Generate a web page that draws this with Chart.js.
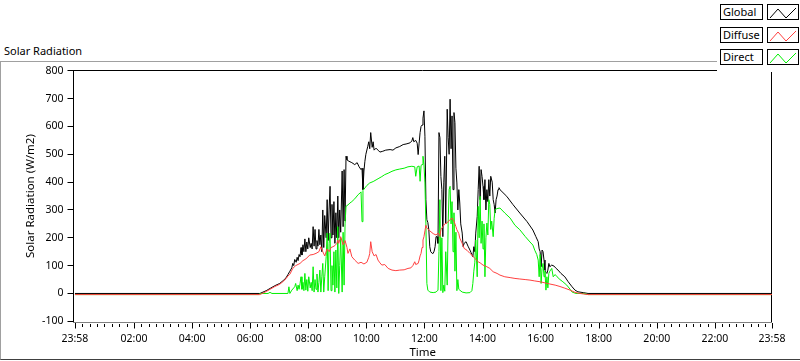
<!DOCTYPE html>
<html>
<head>
<meta charset="utf-8">
<script src="https://cdn.jsdelivr.net/npm/chart.js@4.4.1/dist/chart.umd.min.js"></script>
<style>
  html, body { margin:0; padding:0; background:#fff; }
  #wrap { position:relative; width:800px; height:361px; overflow:hidden; background:#fff; font-family:"Noto Sans", "Liberation Sans", sans-serif; }
  #frame { position:absolute; left:0; top:61px; width:800px; height:299px; box-sizing:border-box;
           border-top:1px solid #a0a0a0; border-left:1px solid #a0a0a0; border-bottom:1px solid #404040; }
  #hdr { position:absolute; left:4px; top:44px; font-size:11px; line-height:13px; color:#000; white-space:nowrap; }
  #c { position:absolute; left:0; top:0; }
  #legend { position:absolute; left:717px; top:0; width:83px; height:72px; background:#fff; }
  .row { position:absolute; left:3px; height:16px; }
  .lab { position:absolute; left:0; top:0; width:43px; height:16px; box-sizing:border-box; border:1px solid #000;
         background:#fff; font-size:11px; line-height:14px; padding-left:2px; color:#000; white-space:nowrap; overflow:hidden; }
  .ico { position:absolute; left:47px; top:0; width:32px; height:16px; box-sizing:border-box; border:1px solid #000; background:#fff; }
  .ico svg { position:absolute; left:0; top:0; }
</style>
</head>
<body>
<div id="wrap">
  <div id="frame"></div>
  <div id="hdr">Solar Radiation</div>
  <canvas id="c" width="800" height="361" style="width:800px;height:361px"></canvas>
  <div id="legend"></div>
</div>
<script>
// ---- tick labels (x axis, minutes of day; 23:58 of previous day = -2) ----
const tickTimes  = [-2, 120, 240, 360, 480, 600, 720, 840, 960, 1080, 1200, 1320, 1438];
const tickLabels = ['23:58','02:00','04:00','06:00','08:00','10:00','12:00','14:00','16:00','18:00','20:00','22:00','23:58'];

const seriesNames  = ['Global', 'Diffuse', 'Direct'];
const seriesColors = ['#000000', '#ff4040', '#00f000'];

// ---- Global ----
const globalTime = [
  -2, 380, 393, 401, 411, 421, 428, 434, 438, 442, 446, 448,
  450, 452, 455, 457, 459, 461, 463, 465, 467, 469, 471, 473, 475, 477, 479, 481,
  484, 486, 488, 490, 492, 494, 496, 498, 500, 502,
  504, 506, 508, 510, 512, 514, 517, 519, 521, 523,
  525, 527, 529, 531, 533, 535, 537, 539, 541, 543,
  545, 547, 550, 552, 554, 556, 558, 560,
  564, 570, 576, 581, 585, 589, 591, 593, 595, 597, 599,
  603, 605, 607, 609, 612, 614, 616, 620, 624,
  628, 634, 640, 649, 655, 661, 669, 676, 682, 690,
  694, 696, 698, 702, 705, 707, 709, 711, 713, 715, 717, 719, 721,
  723, 725, 727, 729, 731, 733, 736, 738, 740, 742, 744, 746, 748,
  750, 752, 754, 756, 758, 760, 762, 764, 767, 769, 771, 773, 775,
  777, 779, 781, 783, 785, 787, 789, 791, 793, 795, 798, 800, 802,
  806, 810, 814, 816, 818, 820, 822, 824, 826, 829, 831,
  833, 835, 837, 839, 841, 843, 845, 847, 849, 851, 853, 855, 857,
  860, 862, 864, 866, 868, 870, 872, 874, 876,
  890, 903, 917, 932, 944, 950, 955, 957, 959,
  961, 963, 965, 967, 969, 971, 973, 975, 977, 979,
  983, 988, 992, 996, 1002, 1010, 1017, 1025, 1031, 1037, 1048, 1058, 1438
];
const globalVal = [
  0, 0, 10, 18, 28, 36, 46, 56, 68, 80, 92, 108,
  100, 122, 112, 130, 118, 140, 132, 165, 138, 175, 150, 196, 150, 185, 160, 200,
  165, 180, 160, 240, 170, 230, 160, 190, 170, 230,
  175, 210, 150, 300, 165, 280, 200, 337, 190, 300,
  385, 200, 320, 210, 330, 180, 290, 200, 350, 200,
  300, 220, 440, 240, 445, 260, 493, 480,
  475, 470, 463, 470, 455, 445, 450, 373, 440, 475, 500,
  529, 545, 520, 578, 525, 545, 515, 522, 515,
  508, 511, 515, 517, 515, 523, 528, 535, 537, 541,
  548, 560, 545, 550, 540, 499, 540, 578, 600, 605, 630, 656, 565,
  337, 265, 255, 230, 168, 150, 144, 144, 152, 168, 204, 204, 180,
  578, 560, 420, 373, 204, 400, 493, 250, 662, 560, 500, 698, 520,
  638, 373, 650, 614, 450, 397, 300, 373, 325, 250, 217, 168, 180,
  186, 170, 156, 148, 140, 132, 168, 150, 217, 277, 373,
  457, 337, 445, 420, 385, 337, 409, 300, 373, 330, 409, 350, 421,
  400, 337, 320, 289, 337, 350, 373, 380, 373,
  349, 319, 289, 258, 228, 205, 186, 160, 150,
  96, 156, 150, 120, 84, 76, 72, 84, 108, 96,
  102, 98, 90, 84, 72, 60, 42, 24, 12, 6, 3, 0, 0
];

// ---- Diffuse ----
const diffuseTime = [
  -2, 380, 393, 401, 411, 421, 428, 434, 438, 442, 448, 454,
  463, 469, 475, 483, 490, 496, 502, 506, 510, 514, 519, 523,
  527, 531, 535, 539, 541, 543, 547, 552, 556, 560, 562, 566,
  570, 576, 583, 589, 595, 601, 605, 607, 609, 612, 616, 620, 624,
  628, 632, 638, 645, 653, 661, 669, 678, 686, 692, 696, 700, 702,
  707, 709, 711, 713, 715, 717, 719, 721, 723, 725, 731, 738, 744,
  748, 752, 754, 758, 762, 766, 773, 777, 781, 785, 787, 791, 793,
  798, 802, 808, 814, 818, 824, 831, 835, 841, 849, 855, 862, 870,
  876, 886, 897, 907, 917, 928, 938, 948, 959, 969, 979, 990,
  1000, 1010, 1021, 1031, 1041, 1058, 1438
];
const diffuseVal = [
  -4, -4, 7, 15, 25, 33, 43, 53, 63, 69, 90, 100,
  108, 118, 124, 138, 140, 144, 150, 168, 150, 135, 160, 150,
  165, 168, 172, 180, 192, 180, 204, 175, 190, 165, 144, 160,
  132, 120, 108, 112, 106, 112, 130, 144, 186, 150, 135, 140, 120,
  110, 102, 104, 90, 84, 82, 84, 85, 90, 92, 100, 114, 104,
  108, 120, 135, 144, 165, 192, 204, 225, 245, 235, 225, 215, 210,
  217, 205, 229, 240, 250, 253, 265, 271, 260, 240, 229, 215, 199,
  180, 162, 155, 144, 138, 126, 114, 110, 102, 96, 90, 78, 72,
  66, 60, 57, 54, 52, 50, 48, 45, 42, 38, 34, 30,
  25, 19, 12, 4, 0, -4, -4
];

// ---- Direct ----
const directTime = [
  -2, 378, 380, 397, 401, 405, 438, 440, 442, 446,
  450, 452, 454, 457, 459, 461, 463, 465, 467, 469, 471, 473, 475, 477, 479, 481,
  484, 486, 488, 490, 492, 494, 496, 498, 500, 502,
  504, 506, 508, 510, 512, 514, 517, 519, 521, 523,
  525, 527, 529, 531, 533, 535, 537, 539, 541, 543,
  545, 547, 550, 552, 554, 556, 558,
  562, 566, 570, 576, 583, 587, 589, 591, 593, 597, 601, 607,
  614, 620, 626, 632, 638, 645, 653, 661, 669, 678, 686, 694,
  700, 702, 705, 709, 711, 713, 715, 717, 719, 721, 723, 725, 727,
  731, 738, 744, 748, 750, 752, 754, 756, 758, 760, 762, 764, 767,
  769, 771, 773, 775, 777, 779, 781, 783, 785, 787, 789, 791, 793,
  798, 806, 814, 818, 820, 822, 824, 826, 829, 831, 833, 835,
  837, 839, 841, 843, 845, 847, 849, 851, 853, 855, 857, 859, 862, 864, 866,
  870, 876, 886, 897, 907, 917, 928, 938, 944, 948, 952, 955,
  957, 959, 961, 963, 965, 967, 969, 971, 973, 975, 977, 979,
  983, 986, 990, 994, 1000, 1006, 1014, 1021, 1025, 1033, 1048, 1058, 1438
];
const directVal = [
  -4, -4, 0, 0, 4, 0, 0, 24, 0, 12,
  20, 24, 36, 10, 30, 15, 35, 60, 15, 40, 10, 72, 12, 50, 8, 60,
  20, 40, 10, 96, 5, 50, 15, 70, 5, 40,
  84, 5, 60, 108, 5, 60, 132, 217, 10, 180,
  217, 10, 100, 30, 150, 5, 156, 20, 240, 0,
  100, 200, 5, 220, 30, 250, 313,
  318, 325, 330, 340, 355, 361, 365, 258, 370, 379, 388, 397,
  402, 408, 414, 420, 427, 432, 439, 444, 447, 450, 455, 457,
  455, 421, 455, 458, 403, 460, 463, 493, 463, 397, 250, 36, 12,
  5, 3, 5, 12, 150, 337, 10, 200, 3, 30, 8, 150, 30,
  253, 373, 385, 250, 330, 150, 290, 80, 220, 10, 50, 15, 12,
  5, 2, 3, 10, 36, 80, 110, 192, 60, 313, 200, 349,
  180, 260, 160, 250, 60, 200, 253, 210, 337, 320, 230, 260, 204, 270, 301,
  305, 307, 289, 271, 245, 229, 205, 185, 174, 155, 140, 120,
  60, 140, 36, 90, 108, 60, 80, 12, 60, 20, 72, 80,
  90, 60, 68, 60, 50, 42, 30, 15, 5, 0, 0, -4, -4
];

function pts(ts, vs) { return ts.map((t, i) => ({ x: t, y: vs[i] })); }

// ---- legend (HTML) ----
const legend = document.getElementById('legend');
seriesNames.forEach((name, i) => {
  const row = document.createElement('div');
  row.className = 'row';
  row.style.top = (4 + i * 22.7) + 'px';
  const lab = document.createElement('div');
  lab.className = 'lab';
  lab.textContent = name;
  const ico = document.createElement('div');
  ico.className = 'ico';
  ico.innerHTML = '<svg width="32" height="16"><polyline points="2,13 10,4 18,13 28,3" fill="none" stroke="' +
                  seriesColors[i] + '" stroke-width="1"/></svg>';
  row.appendChild(lab); row.appendChild(ico);
  legend.appendChild(row);
});

const FONT = '"Noto Sans", "Liberation Sans", sans-serif';

const labviewAxes = {
  id: 'labviewAxes',
  beforeDatasetsDraw(chart) {
    const { ctx, chartArea: a, scales: { x } } = chart;
    ctx.save();
    ctx.lineWidth = 1;
    const L = Math.floor(a.left) + 0.5, R = Math.floor(a.right) - 0.5, T = Math.floor(a.top) + 0.5;
    const B = Math.floor(a.bottom) + 1.5;
    ctx.strokeStyle = '#000';
    ctx.beginPath();
    ctx.moveTo(L, B); ctx.lineTo(L, T); ctx.lineTo(R, T); ctx.lineTo(R, B);
    ctx.stroke();
    ctx.strokeStyle = '#808080';
    ctx.beginPath(); ctx.moveTo(L + 0.5, B); ctx.lineTo(R, B); ctx.stroke();
    ctx.strokeStyle = '#000';
    ctx.beginPath();
    for (let i = 0; i < tickTimes.length; i++) {
      const p = Math.round(x.getPixelForValue(tickTimes[i])) + 0.5;
      ctx.moveTo(p, B + 0.5); ctx.lineTo(p, B + 6);
      if (i < tickTimes.length - 1) {
        const t0 = tickTimes[i], t1 = tickTimes[i + 1];
        for (let k = 1; k < 8; k++) {
          const mp = Math.round(x.getPixelForValue(t0 + (t1 - t0) * k / 8)) + 0.5;
          ctx.moveTo(mp, B + 1.5); ctx.lineTo(mp, B + 4.5);
        }
      }
    }
    ctx.stroke();
    ctx.restore();
  }
};

new Chart(document.getElementById('c'), {
  type: 'line',
  data: {
    datasets: [
      { label: seriesNames[0], data: pts(globalTime, globalVal), borderColor: seriesColors[0], order: 3 },
      { label: seriesNames[1], data: pts(diffuseTime, diffuseVal), borderColor: seriesColors[1], order: 1 },
      { label: seriesNames[2], data: pts(directTime, directVal), borderColor: seriesColors[2], order: 2 }
    ]
  },
  options: {
    responsive: false,
    animation: false,
    devicePixelRatio: 1,
    layout: { padding: { left: 0, right: 28, top: 70.8, bottom: 0 } },
    elements: { point: { radius: 0 }, line: { borderWidth: 1, tension: 0, fill: false } },
    plugins: { legend: { display: false }, tooltip: { enabled: false }, title: { display: false } },
    scales: {
      x: {
        type: 'linear', min: -5, max: 1438,
        afterBuildTicks: s => { s.ticks = tickTimes.map(v => ({ value: v })); },
        afterFit: s => { s.height = 39.7; },
        ticks: { autoSkip: false, maxRotation: 0, padding: 11, color: '#000',
                 font: { family: FONT, size: 10.5 },
                 callback: (v, i) => tickLabels[i] },
        grid: { display: false, drawTicks: false, tickLength: 0 },
        border: { display: false },
        title: { display: true, text: 'Time', color: '#000', font: { family: FONT, size: 11.5 },
                 padding: { top: 0, bottom: 1 } }
      },
      y: {
        min: -100, max: 800,
        afterFit: s => { s.width = 73.5; },
        ticks: { stepSize: 100, padding: 4, color: '#000', font: { family: FONT, size: 10.5 } },
        grid: { display: true, drawOnChartArea: false, drawTicks: true, tickLength: 6, color: '#000', tickColor: '#000' },
        border: { display: false },
        title: { display: true, text: 'Solar Radiation (W/m2)', color: '#000', font: { family: FONT, size: 11.5 },
                 padding: { top: 24, bottom: 0 } }
      }
    }
  },
  plugins: [labviewAxes]
});
</script>
</body>
</html>
